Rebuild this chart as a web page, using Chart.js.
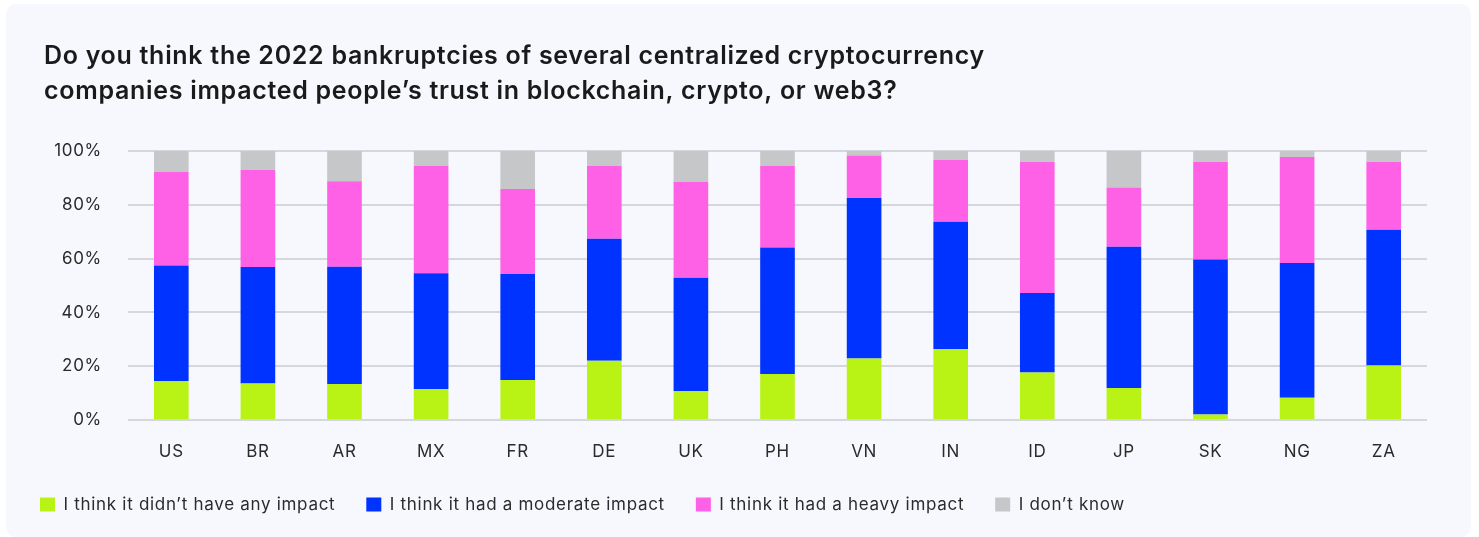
<!DOCTYPE html>
<html>
<head>
<meta charset="utf-8">
<script src="https://cdn.jsdelivr.net/npm/chart.js@4"></script>
<style>
  body { margin: 0; background: #ffffff; }
  #panel {
    position: absolute; left: 6px; top: 4px; width: 1465px; height: 533px;
    background: #f6f8fd; border-radius: 10px;
  }
  #panel canvas { position: absolute; left: 0; top: 0; }
</style>
</head>
<body>
<div id="panel"><canvas id="trustChart" width="1465" height="533"></canvas></div>
<script>
/* survey answers per country, share of respondents in % */
let countries = ['US', 'BR', 'AR', 'MX', 'FR', 'DE', 'UK', 'PH', 'VN', 'IN', 'ID', 'JP', 'SK', 'NG', 'ZA'];
let noImpact = [14.5, 13.6, 13.4, 11.5, 14.9, 22.0, 10.7, 17.1, 22.9, 26.4, 17.7, 11.9, 2.0, 8.3, 20.3];
let moderateImpact = [42.9, 43.3, 43.6, 43.1, 39.4, 45.4, 42.2, 47.0, 59.6, 47.3, 29.5, 52.5, 57.7, 50.1, 50.4];
let heavyImpact = [34.8, 36.0, 31.8, 39.8, 31.6, 27.0, 35.7, 30.4, 15.8, 23.0, 48.7, 22.0, 36.2, 39.4, 25.2];
let dontKnow = [7.8, 7.1, 11.2, 5.6, 14.1, 5.6, 11.4, 5.5, 1.7, 3.3, 4.1, 13.6, 4.1, 2.2, 4.1];
let yTicks = [0, 20, 40, 60, 80, 100];

let titleLines = [
    'Do you think the 2022 bankruptcies of several centralized cryptocurrency',
    'companies impacted people\u2019s trust in blockchain, crypto, or web3?'
];

function makeSet(label, values, color){
    return {
        label: label,
        data: values,
        backgroundColor: color,
        borderWidth: 0,
        barPercentage: 0.4,
        categoryPercentage: 1.0
    };
}

let data = {
    labels: countries,
    datasets: [
        makeSet('I think it didn\u2019t have any impact', noImpact, '#b9f215'),
        makeSet('I think it had a moderate impact', moderateImpact, '#0033ff'),
        makeSet('I think it had a heavy impact', heavyImpact, '#ff61e6'),
        makeSet('I don\u2019t know', dontKnow, '#c6c7c9')
    ]
};

let textColor = '#2b2b2b';
let legendGap = 31;

// the font in use is a bit narrower than the brand font, so open up the letters a little
const spacing = {
    id: 'spacing',
    beforeLayout(chart){ chart.ctx.letterSpacing = '0.7px'; },
    beforeDraw(chart){ chart.ctx.letterSpacing = '0.7px'; },
    // pull the legend back to the left edge and up under the axis labels
    afterLayout(chart){
        let lg = chart.legend;
        lg.left -= legendGap + 4;
        lg.right -= legendGap + 4;
        lg.top -= 14;
        lg.bottom -= 14;
    }
};

let config = {
    type: 'bar',
    data: data,
    options: {
        responsive: false,
        animation: false,
        layout: { padding: { left: 38, right: 44, top: 0, bottom: 0 } },
        plugins: {
            title: {
                display: true,
                text: titleLines,
                align: 'start',
                color: '#1a1a1a',
                font: { family: 'Inter', size: 25, weight: '600', lineHeight: 1.4 },
                padding: { top: 35, bottom: 42 }
            },
            legend: {
                position: 'bottom',
                align: 'start',
                labels: {
                    color: textColor,
                    font: { family: 'Inter', size: 17 },
                    boxWidth: 15,
                    boxHeight: 14,
                    padding: legendGap
                }
            },
            tooltip: { enabled: false }
        },
        scales: {
            x: {
                stacked: true,
                grid: { display: false, drawTicks: false },
                border: { display: false },
                ticks: { color: textColor, font: { family: 'Inter', size: 17 }, padding: 22 },
                afterFit: function(scale){ scale.height = 59; }
            },
            y: {
                stacked: true,
                min: 0,
                max: 100,
                afterBuildTicks: function(scale){
                    scale.ticks = yTicks.map(v => ({ value: v }));
                },
                afterFit: function(scale){ scale.width = 84; },
                grid: { color: '#d5d7dc', lineWidth: 2, drawTicks: false },
                border: { display: false },
                ticks: {
                    color: textColor,
                    font: { family: 'Inter', size: 17 },
                    padding: 26,
                    callback: function(value){ return value + '%'; }
                }
            }
        }
    },
    plugins: [spacing]
};

let myChart = new Chart(document.getElementById('trustChart').getContext('2d'), config);
</script>
</body>
</html>
